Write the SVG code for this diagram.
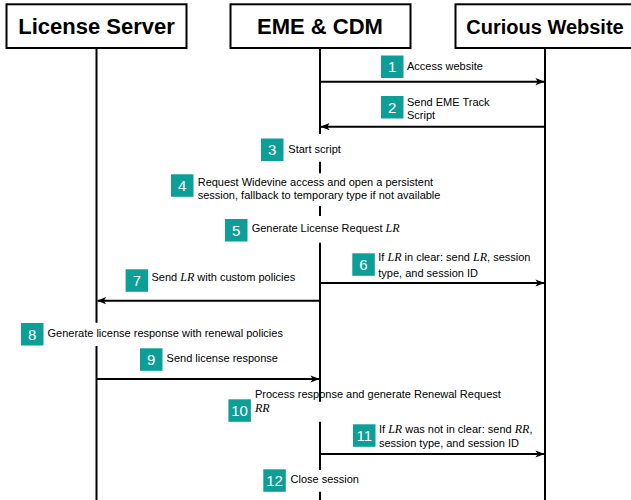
<svg xmlns="http://www.w3.org/2000/svg" width="631" height="500" viewBox="0 0 631 500">
<style>
.hdr rect{fill:#fff;stroke:#000;stroke-width:2}
.hdr text{font-family:"Liberation Sans",Arial,sans-serif;font-weight:bold;font-size:22px;fill:#000;text-anchor:middle}
.life{fill:none;stroke:#000;stroke-width:2}
.msg{fill:none;stroke:#000;stroke-width:2;marker-end:url(#ah)}
.badge rect{fill:#0d9e98}
.badge text{font-family:"Liberation Sans",Arial,sans-serif;font-size:15px;fill:#fff;text-anchor:middle}
.lbl{font-family:"Liberation Sans",Arial,sans-serif;font-size:11px;fill:#000}
.m{font-family:"Liberation Serif","Times New Roman",serif;font-style:italic;font-size:12px}
</style>
<defs>
<marker id="ah" viewBox="0 0 10 10" refX="9.5" refY="5" markerWidth="9" markerHeight="9" markerUnits="userSpaceOnUse" orient="auto">
<path d="M0,1 L10,5 L0,9 L2.5,5 z" fill="#000"/>
</marker>
</defs>
<rect width="631" height="500" fill="#fff"/>

<g id="lifelines">
<path class="life" d="M96.5,48 V322.7 M96.5,346 V500"/>
<path class="life" d="M320,48 V134 M320,161.7 V173.3 M320,206 V216 M320,242.7 V401.7 M320,421.7 V470 M320,491.7 V500"/>
<path class="life" d="M545,48 V500"/>
</g>

<g id="node-license-server" class="hdr">
<rect x="6.5" y="4.3" width="180" height="43.7"/>
<text x="96.5" y="34">License Server</text>
</g>
<g id="node-eme-cdm" class="hdr">
<rect x="230.5" y="4.3" width="180" height="43.7"/>
<text x="320" y="34">EME &amp; CDM</text>
</g>
<g id="node-curious-website" class="hdr">
<rect x="455.5" y="4.3" width="180" height="43.7"/>
<text x="545" y="33.5" style="font-size:20px">Curious Website</text>
</g>

<g id="connectors">
<line class="msg" x1="320" y1="81.7" x2="544" y2="81.7"/>
<line class="msg" x1="545" y1="126.7" x2="321" y2="126.7"/>
<line class="msg" x1="320" y1="283" x2="544" y2="283"/>
<line class="msg" x1="320" y1="300.7" x2="97.5" y2="300.7"/>
<line class="msg" x1="96.5" y1="379" x2="319" y2="379"/>
<line class="msg" x1="320" y1="454" x2="544" y2="454"/>
</g>

<g id="step-1">
<g class="badge"><rect x="381" y="55.5" width="22.5" height="22.5"/><text x="392.2" y="72">1</text></g>
<text class="lbl" x="407" y="69.5">Access website</text>
</g>
<g id="step-2">
<g class="badge"><rect x="381" y="96" width="22.5" height="22.5"/><text x="392.2" y="112.5">2</text></g>
<text class="lbl" x="407" y="105.5">Send EME Track</text>
<text class="lbl" x="407" y="119">Script</text>
</g>
<g id="step-3">
<g class="badge"><rect x="261" y="138.5" width="22.5" height="22.5"/><text x="272.2" y="155">3</text></g>
<text class="lbl" x="288.3" y="152.7">Start script</text>
</g>
<g id="step-4">
<g class="badge"><rect x="171" y="174.3" width="22.5" height="22.5"/><text x="182.2" y="190.8">4</text></g>
<text class="lbl" x="197.7" y="186">Request Widevine access and open a persistent</text>
<text class="lbl" x="197.7" y="198.5">session, fallback to temporary type if not available</text>
</g>
<g id="step-5">
<g class="badge"><rect x="225" y="219" width="22.5" height="22.5"/><text x="236.2" y="235.5">5</text></g>
<text class="lbl" x="251.7" y="232">Generate License Request <tspan class="m">LR</tspan></text>
</g>
<g id="step-6">
<g class="badge"><rect x="352.3" y="253.3" width="22.5" height="22.5"/><text x="363.5" y="269.8">6</text></g>
<text class="lbl" x="378.3" y="261">If <tspan class="m">LR</tspan> in clear: send <tspan class="m">LR</tspan>, session</text>
<text class="lbl" x="378.3" y="276.7">type, and session ID</text>
</g>
<g id="step-7">
<g class="badge"><rect x="125.6" y="269.3" width="22.5" height="22.5"/><text x="136.8" y="285.8">7</text></g>
<text class="lbl" x="151.5" y="280.5">Send <tspan class="m">LR</tspan> with custom policies</text>
</g>
<g id="step-8">
<g class="badge"><rect x="21" y="323" width="22.5" height="22.5"/><text x="32.2" y="339.5">8</text></g>
<text class="lbl" x="47.5" y="337.3">Generate license response with renewal policies</text>
</g>
<g id="step-9">
<g class="badge"><rect x="140" y="348.3" width="22.5" height="22.5"/><text x="151.2" y="364.8">9</text></g>
<text class="lbl" x="166.6" y="361.7">Send license response</text>
</g>
<g id="step-10">
<g class="badge"><rect x="228.4" y="399.3" width="22.5" height="22.5"/><text x="239.6" y="415.8">10</text></g>
<text class="lbl" x="255" y="397.5">Process response and generate Renewal Request</text>
<text class="lbl" x="255" y="411.5"><tspan class="m">RR</tspan></text>
</g>
<g id="step-11">
<g class="badge"><rect x="353" y="424.3" width="22.5" height="22.5"/><text x="364.2" y="440.8">11</text></g>
<text class="lbl" x="379" y="433">If <tspan class="m">LR</tspan> was not in clear: send <tspan class="m">RR</tspan>,</text>
<text class="lbl" x="379" y="447.3">session type, and session ID</text>
</g>
<g id="step-12">
<g class="badge"><rect x="263.3" y="469.3" width="22.5" height="22.5"/><text x="274.5" y="485.8">12</text></g>
<text class="lbl" x="290.5" y="482.7">Close session</text>
</g>
</svg>
